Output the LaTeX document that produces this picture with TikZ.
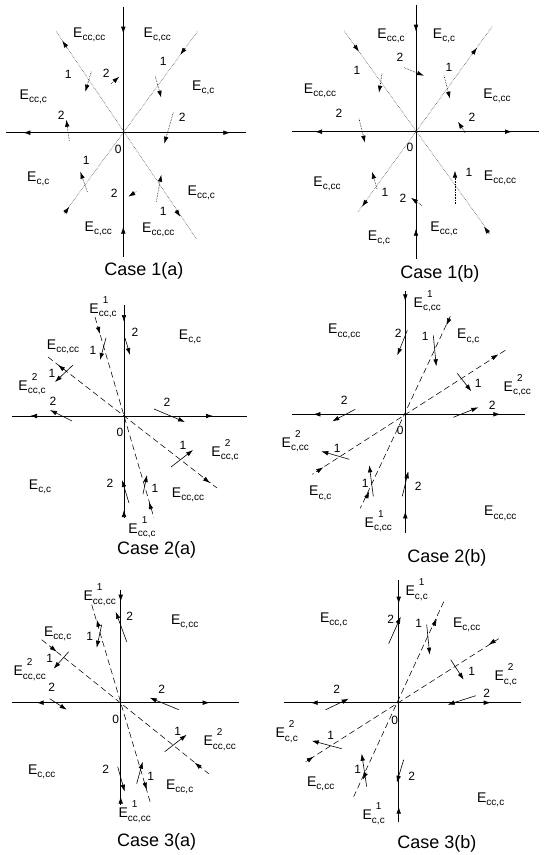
\documentclass[tikz,border=0pt]{standalone}
\usepackage{fontspec}
\setmainfont{Liberation Sans}
\usetikzlibrary{arrows.meta,calc}
\tikzset{
 axisln/.style={line width=0.7pt},
 dashln/.style={line width=0.55pt, dash pattern=on 6pt off 3.5pt},
 dotln/.style={line width=0.55pt, densely dotted, black!75},
 tipst/.style={-{Latex[length=7pt,width=4.6pt]}, line width=0.6pt, solid},
 traj/.style={-{Latex[length=7pt,width=4.6pt]}, line width=0.6pt},
 trajdot/.style={traj, densely dotted},
 num/.style={font=\fontsize{12}{12}\selectfont, inner sep=0pt},
 elab/.style={font=\fontsize{14}{14}\selectfont, inner sep=0pt},
 caplab/.style={font=\fontsize{18}{18}\selectfont, inner sep=0pt},
}
\newcommand\Es[1]{E\raisebox{-3.5pt}{\fontsize{10}{10}\selectfont #1}}
\newcommand\Ess[2]{E\raisebox{-3.5pt}{\fontsize{10}{10}\selectfont\rlap{\kern4pt\raisebox{13.5pt}{#1}}#2}}
\newcommand\outarr[1]{\draw[tipst] ($(#1)!8pt!(0,0)$) -- (#1);}
\newcommand\inarr[1]{\draw[tipst] ($(#1)!-8pt!(0,0)$) -- (#1);}
\begin{document}
\begin{tikzpicture}[x=1pt,y=-1pt]
\useasboundingbox (0,0) rectangle (544,855);

% ---------------- Case 1(a)
\begin{scope}[shift={(123.3,132.7)}]
 \coordinate (o1a) at (0,0);
 \draw[axisln] (-117,0) -- (123,0);
 \draw[axisln] (0,-126) -- (0,124);
 \outarr{-100,0} \outarr{107,0} \inarr{0,-99} \inarr{0,94}
 \draw[dotln] (-67,-101) -- (73,106);
 \outarr{-61,-92} \outarr{57,84}
 \draw[dotln] (74,-101) -- (-58,79);
 \inarr{57,-78} \inarr{-54,74}
 \draw[trajdot] (-32,-61) -- (-38,-41); \node[num] (n1a1) at (-55,-58) {1};
 \draw[trajdot] (-12,-49) -- (-4,-56);  \node[num] (n1a2) at (-17,-59) {2};
 \draw[trajdot] (32,-56) -- (38,-35);   \node[num] (n1a3) at (40,-71) {1};
 \draw[trajdot] (50,-20) -- (41,11);    \node[num] (n1a4) at (59,-15) {2};
 \draw[trajdot] (-54,8) -- (-57,-13);   \node[num] (n1a5) at (-62,-17) {2};
 \draw[trajdot] (-36,59) -- (-43,39);   \node[num] (n1a6) at (-37,28) {1};
 \draw[trajdot] (13,59) -- (5,64);      \node[num] (n1a7) at (-9,61) {2};
 \draw[trajdot] (33,69) -- (38,42);     \node[num] (n1a8) at (40,79) {1};
 \node[num] (z1a) at (-5,17) {0};
 \node[elab] (e1a1) at (-34,-98) {\Es{cc,cc}};
 \node[elab] (e1a2) at (34,-98) {\Es{c,cc}};
 \node[elab] (e1a3) at (80,-45) {\Es{c,c}};
 \node[elab] (e1a4) at (-90,-36) {\Es{cc,c}};
 \node[elab] (e1a5) at (-85,46) {\Es{c,c}};
 \node[elab] (e1a6) at (78,60) {\Es{cc,c}};
 \node[elab] (e1a7) at (-25,96) {\Es{c,cc}};
 \node[elab] (e1a8) at (35,97) {\Es{cc,cc}};
 \node[caplab] (c1a) at (20.7,138.3) {Case 1(a)};
\end{scope}

% ---------------- Case 1(b)
\begin{scope}[shift={(416,131.7)}]
 \coordinate (o1b) at (0,0);
 \draw[axisln] (-124,0) -- (123,0);
 \draw[axisln] (0,-127) -- (0,127);
 \outarr{-101,0} \outarr{96,0} \inarr{0,-100} \inarr{0,97}
 \draw[dotln] (76,-105) -- (-58,80);
 \outarr{61,-84} \outarr{-54,75}
 \draw[dotln] (-72,-101) -- (74,102);
 \inarr{-57,-80} \inarr{68,95}
 \draw[trajdot] (-12,-64) -- (8,-56);   \node[num] (n1b1) at (-16,-74) {2};
 \draw[trajdot] (-34,-58) -- (-37,-39); \node[num] (n1b2) at (-59,-61) {1};
 \draw[trajdot] (28,-56) -- (34,-33);   \node[num] (n1b3) at (33,-64) {1};
 \draw[trajdot] (-57,-13) -- (-51,11);  \node[num] (n1b4) at (-77,-18) {2};
 \draw[trajdot] (49,1) -- (42,-10);     \node[num] (n1b5) at (56,-14) {2};
 \draw[trajdot] (-39,57) -- (-44,40);   \node[num] (n1b6) at (-31,61) {1};
 \draw[trajdot] (6,74) -- (-5,66);      \node[num] (n1b7) at (-13,67) {2};
 \draw[trajdot] (39,72) -- (39,39);     \node[num] (n1b8) at (53,41) {1};
 \node[num] (z1b) at (-6,16) {0};
 \node[elab] (e1b1) at (-25,-96) {\Es{cc,c}};
 \node[elab] (e1b2) at (28,-96) {\Es{c,c}};
 \node[elab] (e1b3) at (-96,-41) {\Es{cc,cc}};
 \node[elab] (e1b4) at (81,-36) {\Es{c,cc}};
 \node[elab] (e1b5) at (-89,52) {\Es{c,cc}};
 \node[elab] (e1b6) at (84,46) {\Es{cc,cc}};
 \node[elab] (e1b7) at (28,97) {\Es{cc,c}};
 \node[elab] (e1b8) at (-37,106) {\Es{c,c}};
 \node[caplab] (c1b) at (24,142.3) {Case 1(b)};
\end{scope}

% ---------------- Case 2(a)
\begin{scope}[shift={(124,416)}]
 \coordinate (o2a) at (0,0);
 \draw[axisln] (-112,0) -- (123,0);
 \draw[axisln] (0,-111) -- (0,99);
 \outarr{-94,0} \outarr{89,0} \inarr{0,-94} \inarr{0,94}
 \draw[dashln] (-29,-99) -- (30,102);
 \inarr{-24,-82} \inarr{25,86}
 \draw[dashln] (-76,-59) -- (93,72);
 \outarr{-66,-51} \outarr{86,67}
 \draw[traj] (-18,-78) -- (-24,-56); \node[num] (n2a1) at (-31,-66) {1};
 \draw[traj] (1,-78) -- (6,-61);     \node[num] (n2a2) at (11,-84) {2};
 \draw[traj] (-51,-51) -- (-69,-34); \node[num] (n2a3) at (-72,-43) {1};
 \draw[traj] (-52,5) -- (-74,-6);    \node[num] (n2a4) at (-71,-15) {2};
 \draw[traj] (30,-7) -- (61,6);      \node[num] (n2a5) at (43,-14) {2};
 \draw[traj] (47,51) -- (69,34);     \node[num] (n2a6) at (59,29) {1};
 \draw[traj] (5,87) -- (-2,64);      \node[num] (n2a7) at (-14,67) {2};
 \draw[traj] (19,78) -- (23,59);     \node[num] (n2a8) at (31,72) {1};
 \node[num] (z2a) at (-4,16) {0};
 \node[elab] (e2a1) at (-21,-109) {\Ess{1}{cc,c}};
 \node[elab] (e2a2) at (66,-79) {\Es{c,c}};
 \node[elab] (e2a3) at (-61,-69) {\Es{cc,cc}};
 \node[elab] (e2a4) at (-92,-32) {\Ess{2}{cc,c}};
 \node[elab] (e2a5) at (101,34) {\Ess{2}{cc,c}};
 \node[elab] (e2a6) at (-84,71) {\Es{c,c}};
 \node[elab] (e2a7) at (64,79) {\Es{cc,cc}};
 \node[elab] (e2a8) at (18,111) {\Ess{1}{cc,c}};
 \node[caplab] (c2a) at (32.7,134) {Case 2(a)};
\end{scope}

% ---------------- Case 2(b)
\begin{scope}[shift={(405.3,414.3)}]
 \coordinate (o2b) at (0,0);
 \draw[axisln] (-113,0) -- (120,0);
 \draw[axisln] (0,-123) -- (0,119);
 \outarr{-92,0} \outarr{95,0} \inarr{0,-113} \inarr{0,97}
 \draw[dashln] (45,-98) -- (-45,94);
 \inarr{41,-89} \inarr{-36,77}
 \draw[dashln] (100,-64) -- (-93,60);
 \outarr{93,-60} \inarr{-82,53}
 \draw[traj] (2,-84) -- (-8,-59);    \node[num] (n2b1) at (-7,-81) {2};
 \draw[traj] (28,-79) -- (31,-48);   \node[num] (n2b2) at (20,-78) {1};
 \draw[traj] (52,-41) -- (66,-23);   \node[num] (n2b3) at (73,-31) {1};
 \draw[traj] (-50,-5) -- (-73,7);    \node[num] (n2b4) at (-61,-14) {2};
 \draw[traj] (48,3) -- (73,-7);      \node[num] (n2b5) at (87,-9) {2};
 \draw[traj] (-56,45) -- (-84,37);   \node[num] (n2b6) at (-68,34) {1};
 \draw[traj] (-32,82) -- (-36,51);   \node[num] (n2b7) at (-40,69) {1};
 \draw[traj] (-3,82) -- (3,57);      \node[num] (n2b8) at (13,72) {2};
 \node[num] (z2b) at (-5,16) {0};
 \node[elab] (e2b1) at (22,-113) {\Ess{1}{c,cc}};
 \node[elab] (e2b2) at (-61,-83) {\Es{cc,cc}};
 \node[elab] (e2b3) at (63,-78) {\Es{c,c}};
 \node[elab] (e2b4) at (112,-29) {\Ess{2}{c,cc}};
 \node[elab] (e2b5) at (-110,27) {\Ess{2}{c,cc}};
 \node[elab] (e2b6) at (-85,79) {\Es{c,c}};
 \node[elab] (e2b7) at (95,99) {\Es{cc,cc}};
 \node[elab] (e2b8) at (-27,107) {\Ess{1}{c,cc}};
 \node[caplab] (c2b) at (41.7,143.4) {Case 2(b)};
\end{scope}

% ---------------- Case 3(a)
\begin{scope}[shift={(120.7,702.7)}]
 \coordinate (o3a) at (0,0);
 \draw[axisln] (-109,0) -- (118,0);
 \draw[axisln] (0,-113) -- (0,101);
 \outarr{-84,0} \outarr{89,0} \inarr{0,-101} \inarr{0,94}
 \draw[dashln] (-29,-98) -- (30,101);
 \outarr{-24,-83} \outarr{26,87}
 \draw[dashln] (-79,-63) -- (88,71);
 \inarr{-64,-51} \inarr{74,60}
 \draw[traj] (6,-61) -- (-5,-91);    \node[num] (n3a1) at (9,-86) {2};
 \draw[traj] (-19,-78) -- (-24,-55); \node[num] (n3a2) at (-31,-66) {1};
 \draw[traj] (-52,-51) -- (-67,-34); \node[num] (n3a3) at (-71,-44) {1};
 \draw[traj] (-71,-4) -- (-54,7);    \node[num] (n3a4) at (-69,-15) {2};
 \draw[traj] (58,7) -- (29,-5);      \node[num] (n3a5) at (41,-13) {2};
 \draw[traj] (44,49) -- (66,32);     \node[num] (n3a6) at (57,29) {1};
 \draw[traj] (-3,64) -- (4,89);      \node[num] (n3a7) at (-15,67) {2};
 \draw[traj] (16,81) -- (22,59);     \node[num] (n3a8) at (30,74) {1};
 \node[num] (z3a) at (-5,17) {0};
 \node[elab] (e3a1) at (-21,-108) {\Ess{1}{cc,cc}};
 \node[elab] (e3a2) at (64,-81) {\Es{c,cc}};
 \node[elab] (e3a3) at (-63,-69) {\Es{cc,c}};
 \node[elab] (e3a4) at (-91,-33) {\Ess{2}{cc,cc}};
 \node[elab] (e3a5) at (99,37) {\Ess{2}{cc,cc}};
 \node[elab] (e3a6) at (-79,69) {\Es{c,cc}};
 \node[elab] (e3a7) at (59,84) {\Es{cc,c}};
 \node[elab] (e3a8) at (14,109) {\Ess{1}{cc,cc}};
 \node[caplab] (c3a) at (36,139) {Case 3(a)};
\end{scope}

% ---------------- Case 3(b)
\begin{scope}[shift={(398.7,702.7)}]
 \coordinate (o3b) at (0,0);
 \draw[axisln] (-115,0) -- (122,0);
 \draw[axisln] (0,-123) -- (0,119);
 \outarr{-88,0} \outarr{92,0} \inarr{0,-99} \inarr{0,104}
 \draw[dashln] (45,-101) -- (-45,94);
 \outarr{38,-84} \outarr{-36,77}
 \draw[dashln] (100,-64) -- (-93,59);
 \inarr{90,-58} \inarr{-85,54}
 \draw[traj] (-10,-59) -- (2,-86);   \node[num] (n3b1) at (-8,-83) {2};
 \draw[traj] (28,-78) -- (31,-48);   \node[num] (n3b2) at (20,-79) {1};
 \draw[traj] (52,-43) -- (65,-23);   \node[num] (n3b3) at (73,-31) {1};
 \draw[traj] (-73,7) -- (-50,-4);    \node[num] (n3b4) at (-62,-13) {2};
 \draw[traj] (77,-7) -- (49,2);      \node[num] (n3b5) at (88,-9) {2};
 \draw[traj] (-57,46) -- (-87,38);   \node[num] (n3b6) at (-68,33) {1};
 \draw[traj] (-32,84) -- (-37,51);   \node[num] (n3b7) at (-41,67) {1};
 \draw[traj] (5,57) -- (-2,80);      \node[num] (n3b8) at (13,74) {2};
 \node[num] (z3b) at (-4,18) {0};
 \node[elab] (e3b1) at (18,-113) {\Ess{1}{c,c}};
 \node[elab] (e3b2) at (-65,-83) {\Es{cc,c}};
 \node[elab] (e3b3) at (68,-78) {\Es{c,cc}};
 \node[elab] (e3b4) at (107,-28) {\Ess{2}{c,c}};
 \node[elab] (e3b5) at (-112,29) {\Ess{2}{c,c}};
 \node[elab] (e3b6) at (-78,81) {\Es{c,cc}};
 \node[elab] (e3b7) at (92,97) {\Es{cc,c}};
 \node[elab] (e3b8) at (-25,111) {\Ess{1}{c,c}};
 \node[caplab] (c3b) at (38.3,141.3) {Case 3(b)};
\end{scope}
\end{tikzpicture}
\end{document}
